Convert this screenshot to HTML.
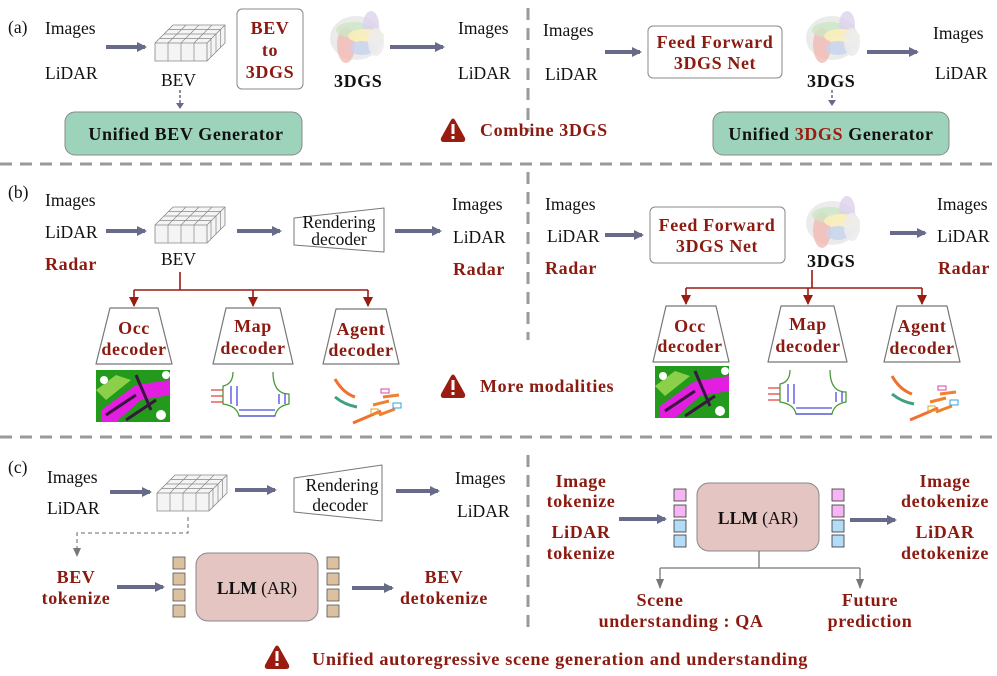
<!DOCTYPE html>
<html><head><meta charset="utf-8"><style>
html,body{margin:0;padding:0;background:#fff}
svg{display:block;font-family:"Liberation Serif",serif}
.t{font-size:17.5px;fill:#111}
.r{font-size:18px;fill:#8b1a10;font-weight:bold;letter-spacing:0.6px}
.b{font-size:18px;fill:#111;font-weight:bold;letter-spacing:0.6px}
</style></head><body>
<svg width="997" height="676" viewBox="0 0 997 676" xmlns="http://www.w3.org/2000/svg">
<defs>
<marker id="ah" markerWidth="10" markerHeight="10" refX="8" refY="5" orient="auto" markerUnits="userSpaceOnUse"><path d="M0,0 L10,5 L0,10 z" fill="#676a88"/></marker>
<marker id="rh" markerWidth="10" markerHeight="10" refX="9" refY="5" orient="auto" markerUnits="userSpaceOnUse"><path d="M0,0 L10,5 L0,10 z" fill="#9a1b10"/></marker>
<marker id="gh" markerWidth="10" markerHeight="10" refX="9" refY="5" orient="auto" markerUnits="userSpaceOnUse"><path d="M0,1 L10,5 L0,9 z" fill="#777"/></marker>
<g id="grid">
 <path d="M0,18 L18,0 L70,0 L70,18 L52,36 L0,36 z" fill="#f4f4f4" stroke="#888" stroke-width="0.8"/>
 <path d="M0,18 L52,18 L70,0 M52,18 L52,36" fill="none" stroke="#888" stroke-width="0.8"/>
 <path d="M13,18 L13,36 M26,18 L26,36 M39,18 L39,36 M4.5,13.5 L56.5,13.5 M9,9 L61,9 M13.5,4.5 L65.5,4.5 M31,0 L13,18 M44,0 L26,18 M57,0 L39,18 M56,14 L56,32 M61,9 L61,27 M65.5,4.5 L65.5,22.5" fill="none" stroke="#888" stroke-width="0.7"/>
</g>
<g id="gs">
 <ellipse cx="30" cy="28" rx="26" ry="22" fill="#ddd" opacity="0.6"/>
 <ellipse cx="20" cy="35" rx="9" ry="18" fill="#f3b9b4" opacity="0.8"/>
 <ellipse cx="28" cy="20" rx="18" ry="8" fill="#cde6c4" opacity="0.8"/>
 <ellipse cx="45" cy="15" rx="8" ry="14" fill="#ddd2ee" opacity="0.8"/>
 <ellipse cx="40" cy="26" rx="18" ry="7" fill="#fbeebb" opacity="0.9"/>
 <ellipse cx="36" cy="38" rx="12" ry="7" fill="#c7d3ee" opacity="0.8"/>
 <ellipse cx="50" cy="32" rx="8" ry="14" fill="#ececec" opacity="0.9"/>
</g>
<g id="occ">
 <rect x="0" y="0" width="74" height="52" fill="#239a1c"/>
 <path d="M5,40 L40,15 L74,10 L74,25 L45,30 L20,52 L5,52z" fill="#e21ee0"/>
 <path d="M0,20 L20,5 L35,10 L10,30z" fill="#8ccf4a"/>
 <path d="M10,45 L40,25 M30,50 L60,30 M40,5 L55,40" stroke="#3a1540" stroke-width="3"/>
 <circle cx="8" cy="10" r="4" fill="#fff"/><circle cx="65" cy="45" r="5" fill="#fff"/><circle cx="70" cy="5" r="4" fill="#fff"/>
</g>
<g id="map">
 <path d="M22,0 Q22,12 12,14 L12,32 Q26,34 28,44 L64,44 Q66,34 78,32 L78,22 Q62,22 62,0" fill="none" stroke="#4a9a3a" stroke-width="1.3"/>
 <path d="M20,14 L20,32 M26,14 L26,34 M28,38 L64,38 M28,44 L64,44 M68,22 L68,32 M74,22 L74,32" stroke="#4a4ae6" stroke-width="1.3"/>
 <path d="M0,18 L12,18 M0,24 L12,24 M0,30 L12,30" stroke="#e04040" stroke-width="1.3"/>
</g>
<g id="agent">
 <path d="M2,4 Q10,18 22,22" stroke="#f07030" stroke-width="3" fill="none"/>
 <path d="M2,22 Q12,30 24,32" stroke="#40a080" stroke-width="3" fill="none"/>
 <path d="M20,48 L48,36" stroke="#f07030" stroke-width="3"/>
 <path d="M40,30 L56,26 M50,22 L66,20 M46,40 L62,34" stroke="#f08030" stroke-width="3"/>
 <rect x="48" y="14" width="8" height="4" fill="none" stroke="#e040a0"/>
 <rect x="60" y="28" width="8" height="5" fill="none" stroke="#30a0e0"/>
 <rect x="38" y="34" width="7" height="5" fill="none" stroke="#e0a020"/>
</g>
<g id="warn">
 <path d="M11,3 Q13,0 15,3 L25,21 Q26,25 22,25 L4,25 Q0,25 1,21 z" fill="#9a1b10"/>
 <rect x="11.5" y="7" width="3" height="10" fill="#fff"/><rect x="11.5" y="19" width="3" height="3" fill="#fff"/>
</g>
</defs>

<g stroke="#9a9a9a" stroke-width="3" stroke-dasharray="12,8" fill="none">
<path d="M0,164 L997,164"/><path d="M0,437 L997,437"/>
<path d="M528,8 L528,132"/><path d="M528,172 L528,340"/><path d="M528,455 L528,630"/>
</g>

<g stroke="#676a88" stroke-width="4" marker-end="url(#ah)">
<path d="M106,47 L145,47"/><path d="M390,47 L443,47"/><path d="M605,52 L640,52"/><path d="M867,52 L917,52"/>
<path d="M106,231 L145,231"/><path d="M237,231 L280,231"/><path d="M395,231 L440,231"/><path d="M605,235 L642,235"/><path d="M890,233 L925,233"/>
<path d="M110,492 L150,492"/><path d="M235,490 L275,490"/><path d="M396,491 L438,491"/>
<path d="M117,587 L163,587"/><path d="M352,588 L392,588"/><path d="M619,519 L665,519"/><path d="M850,520 L895,520"/>
</g>

<!-- (a) -->
<text x="8" y="33" class="t" font-size="18">(a)</text>
<text x="45" y="34" class="t">Images</text><text x="45" y="79" class="t">LiDAR</text>
<use href="#grid" x="155" y="25"/>
<text x="161" y="86" class="t">BEV</text>
<path d="M180,90 L180,108" stroke="#676a88" stroke-width="1.5" stroke-dasharray="3,2" fill="none"/><path d="M176,103 L184,103 L180,109z" fill="#676a88"/>
<rect x="65" y="112" width="237" height="43" rx="10" fill="#9ed3bb" stroke="#888"/>
<text x="186" y="140" class="b" text-anchor="middle">Unified BEV Generator</text>
<rect x="237" y="9" width="66" height="80" rx="5" fill="#fff" stroke="#888"/>
<text x="270" y="34" class="r" text-anchor="middle">BEV</text>
<text x="270" y="56" class="r" text-anchor="middle">to</text>
<text x="270" y="78" class="r" text-anchor="middle">3DGS</text>
<use href="#gs" x="326" y="10"/>
<text x="334" y="87" class="b">3DGS</text>
<text x="458" y="34" class="t">Images</text><text x="458" y="79" class="t">LiDAR</text>
<text x="543" y="36" class="t">Images</text><text x="545" y="80" class="t">LiDAR</text>
<rect x="648" y="26" width="134" height="52" rx="5" fill="#fff" stroke="#888"/>
<text x="715" y="48" class="r" text-anchor="middle">Feed Forward</text>
<text x="715" y="69" class="r" text-anchor="middle">3DGS Net</text>
<use href="#gs" x="802" y="10"/>
<text x="807" y="87" class="b">3DGS</text>
<path d="M832,90 L832,104" stroke="#676a88" stroke-width="1.5" stroke-dasharray="3,2" fill="none"/><path d="M828,100 L836,100 L832,106z" fill="#676a88"/>
<text x="933" y="39" class="t">Images</text><text x="935" y="79" class="t">LiDAR</text>
<rect x="713" y="112" width="236" height="43" rx="10" fill="#9ed3bb" stroke="#888"/>
<text x="831" y="140" class="b" text-anchor="middle">Unified <tspan fill="#9a1b10">3DGS</tspan> Generator</text>
<use href="#warn" x="440" y="117"/>
<text x="480" y="136" class="r">Combine 3DGS</text>

<!-- (b) -->
<text x="8" y="198" class="t" font-size="18">(b)</text>
<text x="45" y="206" class="t">Images</text><text x="45" y="238" class="t">LiDAR</text><text x="45" y="270" class="r">Radar</text>
<use href="#grid" x="155" y="207"/>
<text x="161" y="265" class="t">BEV</text>
<path d="M294,218 L384,208 L384,252 L294,245 z" fill="#fff" stroke="#777" stroke-linejoin="round"/>
<text x="339" y="228" class="t" font-size="16.5" text-anchor="middle">Rendering</text><text x="339" y="245" class="t" font-size="16.5" text-anchor="middle">decoder</text>
<text x="452" y="210" class="t">Images</text><text x="453" y="243" class="t">LiDAR</text><text x="453" y="275" class="r">Radar</text>
<g stroke="#9a1b10" stroke-width="1.6" fill="none">
<path d="M180,272 L180,290 M134,290 L368,290"/>
<path d="M134,290 L134,306" marker-end="url(#rh)"/><path d="M253,290 L253,306" marker-end="url(#rh)"/><path d="M368,290 L368,306" marker-end="url(#rh)"/>
<path d="M812,270 L812,288 M686,288 L922,288"/>
<path d="M686,288 L686,304" marker-end="url(#rh)"/><path d="M808,288 L808,304" marker-end="url(#rh)"/><path d="M922,288 L922,304" marker-end="url(#rh)"/>
</g>
<g fill="#fff" stroke="#777" stroke-width="1.2" stroke-linejoin="round">
<path d="M110,308 L158,308 L172,364 L96,364 z"/><path d="M226,308 L280,308 L293,364 L213,364 z"/><path d="M336,309 L386,309 L399,364 L323,364 z"/>
<path d="M666,306 L716,306 L729,362 L653,362 z"/><path d="M781,306 L834,306 L847,362 L768,362 z"/><path d="M897,306 L947,306 L960,362 L884,362 z"/>
</g>
<g text-anchor="middle">
<text x="134" y="334" class="r">Occ</text><text x="134" y="355" class="r">decoder</text>
<text x="253" y="332" class="r">Map</text><text x="253" y="354" class="r">decoder</text>
<text x="361" y="335" class="r">Agent</text><text x="361" y="356" class="r">decoder</text>
<text x="690" y="332" class="r">Occ</text><text x="690" y="352" class="r">decoder</text>
<text x="808" y="330" class="r">Map</text><text x="808" y="352" class="r">decoder</text>
<text x="922" y="332" class="r">Agent</text><text x="922" y="354" class="r">decoder</text>
</g>
<use href="#occ" x="96" y="370"/><use href="#map" x="211" y="372"/><use href="#agent" x="333" y="375"/>
<use href="#occ" x="655" y="366"/><use href="#map" x="768" y="370"/><use href="#agent" x="890" y="372"/>
<use href="#warn" x="440" y="373"/>
<text x="480" y="392" class="r">More modalities</text>
<text x="545" y="210" class="t">Images</text><text x="547" y="242" class="t">LiDAR</text><text x="545" y="274" class="r">Radar</text>
<rect x="650" y="207" width="135" height="56" rx="5" fill="#fff" stroke="#888"/>
<text x="717" y="231" class="r" text-anchor="middle">Feed Forward</text>
<text x="717" y="252" class="r" text-anchor="middle">3DGS Net</text>
<use href="#gs" x="802" y="195"/>
<text x="807" y="267" class="b">3DGS</text>
<text x="937" y="210" class="t">Images</text><text x="937" y="242" class="t">LiDAR</text><text x="938" y="274" class="r">Radar</text>

<!-- (c) -->
<text x="8" y="473" class="t" font-size="18">(c)</text>
<text x="47" y="483" class="t">Images</text><text x="47" y="514" class="t">LiDAR</text>
<use href="#grid" x="157" y="475"/>
<path d="M294,478 L382,465 L382,521 L294,512 z" fill="#fff" stroke="#777" stroke-linejoin="round"/>
<text x="342" y="491" class="t" font-size="17" text-anchor="middle">Rendering</text><text x="340" y="511" class="t" font-size="17" text-anchor="middle">decoder</text>
<text x="455" y="484" class="t">Images</text><text x="457" y="517" class="t">LiDAR</text>
<path d="M188,517 L188,533 L77,533 L77,552" stroke="#888" stroke-width="1.3" stroke-dasharray="4,3" fill="none"/><path d="M73,548 L81,548 L77,557z" fill="#777"/>
<text x="76" y="583" class="r" text-anchor="middle">BEV</text><text x="76" y="604" class="r" text-anchor="middle">tokenize</text>
<g fill="#dcc1a0" stroke="#555" stroke-width="0.8">
<rect x="173" y="557" width="12" height="12"/><rect x="173" y="573" width="12" height="12"/><rect x="173" y="589" width="12" height="12"/><rect x="173" y="605" width="12" height="12"/>
<rect x="327" y="557" width="12" height="12"/><rect x="327" y="573" width="12" height="12"/><rect x="327" y="589" width="12" height="12"/><rect x="327" y="605" width="12" height="12"/>
</g>
<rect x="196" y="553" width="122" height="68" rx="12" fill="#e5c5c2" stroke="#888"/>
<text x="257" y="594" class="t" font-size="18.5" text-anchor="middle"><tspan font-weight="bold">LLM</tspan> (AR)</text>
<text x="444" y="583" class="r" text-anchor="middle">BEV</text><text x="444" y="604" class="r" text-anchor="middle">detokenize</text>
<text x="581" y="487" class="r" text-anchor="middle">Image</text><text x="581" y="507" class="r" text-anchor="middle">tokenize</text>
<text x="581" y="538" class="r" text-anchor="middle">LiDAR</text><text x="581" y="559" class="r" text-anchor="middle">tokenize</text>
<g stroke="#333" stroke-width="0.8">
<rect x="674" y="489" width="12" height="12" fill="#f6b6f3"/><rect x="674" y="505" width="12" height="12" fill="#f6b6f3"/><rect x="674" y="520" width="12" height="12" fill="#b4dcf6"/><rect x="674" y="535" width="12" height="12" fill="#b4dcf6"/>
<rect x="832" y="489" width="12" height="12" fill="#f6b6f3"/><rect x="832" y="505" width="12" height="12" fill="#f6b6f3"/><rect x="832" y="520" width="12" height="12" fill="#b4dcf6"/><rect x="832" y="535" width="12" height="12" fill="#b4dcf6"/>
</g>
<rect x="697" y="483" width="122" height="68" rx="12" fill="#e5c5c2" stroke="#888"/>
<text x="758" y="524" class="t" font-size="18.5" text-anchor="middle"><tspan font-weight="bold">LLM</tspan> (AR)</text>
<text x="945" y="487" class="r" text-anchor="middle">Image</text><text x="945" y="507" class="r" text-anchor="middle">detokenize</text>
<text x="945" y="538" class="r" text-anchor="middle">LiDAR</text><text x="945" y="559" class="r" text-anchor="middle">detokenize</text>
<path d="M759,551 L759,568 M660,568 L860,568" stroke="#777" stroke-width="1.3" fill="none"/>
<path d="M660,568 L660,588" stroke="#777" stroke-width="1.3" marker-end="url(#gh)"/><path d="M860,568 L860,588" stroke="#777" stroke-width="1.3" marker-end="url(#gh)"/>
<text x="660" y="606" class="r" text-anchor="middle">Scene</text>
<text x="681" y="627" class="r" text-anchor="middle">understanding : QA</text>
<text x="870" y="606" class="r" text-anchor="middle">Future</text><text x="870" y="627" class="r" text-anchor="middle">prediction</text>
<use href="#warn" x="264" y="644"/>
<text x="312" y="665" class="r" textLength="496" lengthAdjust="spacingAndGlyphs">Unified autoregressive scene generation and understanding</text>
</svg>
</body></html>
